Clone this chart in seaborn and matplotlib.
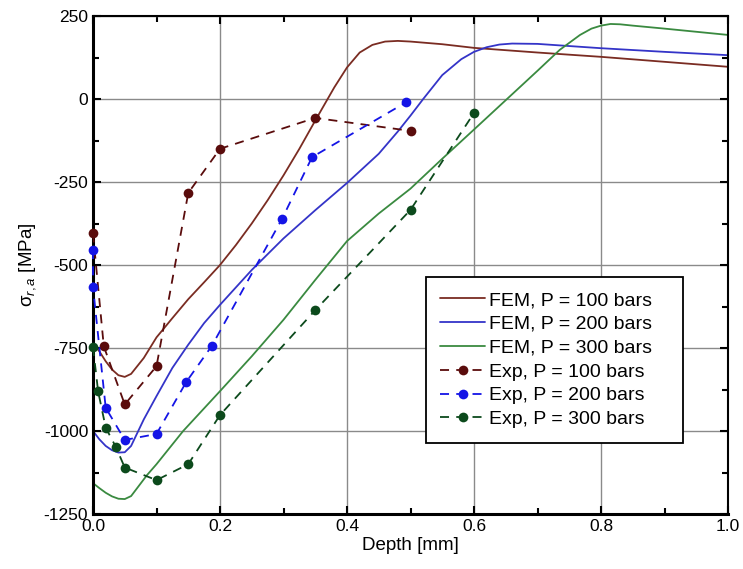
import matplotlib
matplotlib.use("Agg")
import matplotlib.pyplot as plt
import seaborn as sns
import pandas as pd
from matplotlib.ticker import MultipleLocator, FormatStrFormatter

# ---- data ----
fem100_x = [0, 0.01, 0.02, 0.03, 0.04, 0.05, 0.06, 0.08, 0.1, 0.125, 0.15, 0.175, 0.2, 0.225, 0.25,
            0.275, 0.3, 0.325, 0.35, 0.38, 0.4, 0.42, 0.44, 0.46, 0.48, 0.5, 0.55, 0.6, 0.7, 0.8, 0.9, 1.0]
fem100_y = [-735, -760, -790, -815, -832, -837, -828, -780, -718, -660, -603, -552, -500, -440, -375,
            -305, -230, -150, -65, 35, 95, 140, 163, 173, 175, 173, 165, 154, 140, 127, 112, 97]

fem200_x = [0, 0.01, 0.02, 0.03, 0.04, 0.05, 0.06, 0.07, 0.08, 0.1, 0.125, 0.15, 0.175, 0.2, 0.25,
            0.3, 0.35, 0.4, 0.45, 0.48, 0.5, 0.52, 0.55, 0.58, 0.6, 0.62, 0.64, 0.66, 0.7, 0.8, 0.9, 1.0]
fem200_y = [-1000, -1025, -1045, -1058, -1065, -1064, -1045, -1005, -965, -895, -810, -740, -675, -620, -515,
            -420, -335, -253, -165, -98, -50, 0, 72, 120, 142, 156, 164, 167, 166, 153, 142, 132]

fem300_x = [0, 0.01, 0.02, 0.03, 0.04, 0.05, 0.06, 0.085, 0.1, 0.142, 0.2, 0.25, 0.3, 0.35, 0.4, 0.45,
            0.5, 0.55, 0.6, 0.652, 0.7, 0.735, 0.767, 0.785, 0.8, 0.815, 0.83, 0.85, 0.9, 1.0]
fem300_y = [-1157, -1172, -1186, -1197, -1204, -1205, -1196, -1133, -1100, -1000, -880, -775, -665, -545,
            -428, -345, -270, -180, -92, 0, 85, 148, 193, 212, 221, 226, 225, 221, 212, 193]

exp100_x = [0, 0.017, 0.05, 0.1, 0.15, 0.2, 0.35, 0.5]
exp100_y = [-405, -745, -920, -805, -283, -150, -57, -96]

exp200_x = [0, 0, 0.02, 0.05, 0.1, 0.147, 0.187, 0.298, 0.345, 0.493]
exp200_y = [-455, -566, -930, -1027, -1009, -852, -744, -360, -175, -10]

exp300_x = [0, 0.008, 0.02, 0.036, 0.05, 0.1, 0.15, 0.2, 0.35, 0.5, 0.6]
exp300_y = [-747, -880, -990, -1048, -1110, -1148, -1100, -952, -636, -334, -42]

labels = ["FEM, P = 100 bars", "FEM, P = 200 bars", "FEM, P = 300 bars",
          "Exp, P = 100 bars", "Exp, P = 200 bars", "Exp, P = 300 bars"]

# ---- style ----
sns.set_style("ticks")
plt.rcParams['font.family'] = ['Liberation Sans', 'DejaVu Sans']
plt.rcParams['mathtext.fontset'] = 'custom'
plt.rcParams['mathtext.rm'] = 'Liberation Sans'
plt.rcParams['mathtext.it'] = 'Liberation Sans:italic'
plt.rcParams['axes.unicode_minus'] = False
for k in ['text.color', 'axes.labelcolor', 'xtick.color', 'ytick.color']:
    plt.rcParams[k] = 'black'

fig = plt.figure(figsize=(7.43, 5.69), dpi=100)
ax = fig.add_axes([93/743, 1 - 514/569, (728 - 93)/743, (514 - 16)/569])

fem_cols = ["#7a2c22", "#3434c8", "#3a8a40"]
exp_cols = ["#5a0c0c", "#1414e6", "#0c4a1c"]

for xs, ys, c, lab in [(fem100_x, fem100_y, fem_cols[0], labels[0]),
                       (fem200_x, fem200_y, fem_cols[1], labels[1]),
                       (fem300_x, fem300_y, fem_cols[2], labels[2])]:
    df = pd.DataFrame({"x": xs, "y": ys})
    sns.lineplot(data=df, x="x", y="y", ax=ax, color=c, lw=1.3, sort=False,
                 estimator=None, label=lab)

for xs, ys, c, lab in [(exp100_x, exp100_y, exp_cols[0], labels[3]),
                       (exp200_x, exp200_y, exp_cols[1], labels[4]),
                       (exp300_x, exp300_y, exp_cols[2], labels[5])]:
    df = pd.DataFrame({"x": xs, "y": ys})
    sns.lineplot(data=df, x="x", y="y", ax=ax, color=c, lw=1.3, sort=False,
                 estimator=None, label=lab, marker="o", markersize=7,
                 markeredgewidth=0, linestyle=(0, (5, 4)), clip_on=False, zorder=3)

ax.set_xlim(0, 1.0)
ax.set_ylim(-1250, 250)
ax.xaxis.set_major_locator(MultipleLocator(0.2))
ax.xaxis.set_minor_locator(MultipleLocator(0.1))
ax.yaxis.set_major_locator(MultipleLocator(250))
ax.yaxis.set_minor_locator(MultipleLocator(125))
ax.xaxis.set_major_formatter(FormatStrFormatter('%.1f'))
ax.grid(True, which='major', color='#8a8a8a', lw=1.0)
ax.set_axisbelow(True)

ax.tick_params(which='both', direction='in', top=True, right=True, labelsize=12.5, width=1.5)
ax.tick_params(which='major', length=6)
ax.tick_params(which='minor', length=4)
for s in ['left', 'bottom']:
    ax.spines[s].set_linewidth(2.2)
for s in ['top', 'right']:
    ax.spines[s].set_linewidth(1.5)
for s in ax.spines.values():
    s.set_color('black')

ax.set_xlabel("Depth [mm]", fontsize=13.5, labelpad=2)
ax.set_ylabel(r"σ$_{r,a}$ [MPa]", fontsize=13.5, labelpad=4)

leg = ax.legend(loc='lower left', bbox_to_anchor=(0.524, 0.143, 0.405, 0.345), mode='expand',
                fontsize=14, frameon=True, fancybox=False, edgecolor='black', framealpha=1,
                handlelength=2.3, handletextpad=0.2, labelspacing=0.32,
                borderpad=0.75, borderaxespad=0)
leg.get_frame().set_linewidth(1.3)

fig.savefig("out.png", dpi=100)
